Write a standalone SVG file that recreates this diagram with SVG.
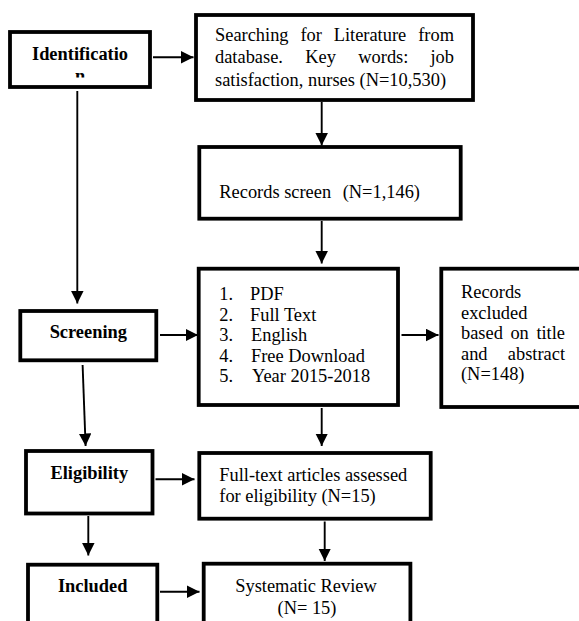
<svg xmlns="http://www.w3.org/2000/svg" width="579" height="621" viewBox="0 0 579 621">
<style>
.box{fill:#fff;stroke:#000;stroke-width:3.8}
.t{font-family:"Liberation Serif","Times New Roman",serif;font-size:18.4px;fill:#000}
.b{font-weight:bold}
.c{text-anchor:middle}
.e{text-anchor:end}
.ln{stroke:#000;stroke-width:1.9;fill:none}
</style>
<defs>
<marker id="ah" markerUnits="userSpaceOnUse" markerWidth="13" markerHeight="13" refX="12.5" refY="6.25" orient="auto">
<path d="M0,0 L12.5,6.25 L0,12.5 z" fill="#000"/>
</marker>
<clipPath id="clipId"><rect x="12" y="34" width="136" height="43.5"/></clipPath>
</defs>
<rect width="579" height="621" fill="#fff"/>
<g id="connectors">
<line class="ln" x1="153" y1="57.3" x2="193.5" y2="57.3" marker-end="url(#ah)"/>
<line class="ln" x1="321.7" y1="102" x2="321.7" y2="145.5" marker-end="url(#ah)"/>
<line class="ln" x1="321.7" y1="221" x2="321.7" y2="263.5" marker-end="url(#ah)"/>
<line class="ln" x1="77.3" y1="91" x2="77.3" y2="303.5" marker-end="url(#ah)"/>
<line class="ln" x1="160" y1="335" x2="198" y2="335" marker-end="url(#ah)"/>
<line class="ln" x1="401.5" y1="335" x2="438.5" y2="335" marker-end="url(#ah)"/>
<line class="ln" x1="82.6" y1="365" x2="85.6" y2="446" marker-end="url(#ah)"/>
<line class="ln" x1="321.7" y1="408" x2="321.7" y2="446" marker-end="url(#ah)"/>
<line class="ln" x1="155.5" y1="479.3" x2="194.5" y2="479.3" marker-end="url(#ah)"/>
<line class="ln" x1="88.3" y1="516" x2="88.3" y2="555.5" marker-end="url(#ah)"/>
<line class="ln" x1="324.7" y1="521.5" x2="324.7" y2="561" marker-end="url(#ah)"/>
<line class="ln" x1="160" y1="591.7" x2="199.5" y2="591.7" marker-end="url(#ah)"/>
</g>
<g id="identification">
<rect class="box" x="10" y="32" width="140" height="55"/>
<g clip-path="url(#clipId)">
<text class="t b c" x="80" y="60">Identificatio</text>
<text class="t b c" x="80" y="81.8">n</text>
</g>
</g>
<g id="searching">
<rect class="box" x="196" y="15" width="277" height="85"/>
<text class="t" y="40.5"><tspan x="215">Searching</tspan><tspan x="300.4">for</tspan><tspan x="333.7">Literature</tspan><tspan x="454" text-anchor="end">from</tspan></text>
<text class="t" y="63"><tspan x="215">database.</tspan><tspan x="305.3">Key</tspan><tspan x="358.3">words:</tspan><tspan x="454" text-anchor="end">job</tspan></text>
<text class="t" x="215" y="85.5">satisfaction, nurses (N=10,530)</text>
</g>
<g id="records">
<rect class="box" x="199.3" y="147" width="261.4" height="71.7"/>
<text class="t" y="198"><tspan x="219.3">Records screen</tspan><tspan x="342.7">(N=1,146)</tspan></text>
</g>
<g id="screening">
<rect class="box" x="20.3" y="311" width="136" height="49.3"/>
<text class="t b c" x="88.3" y="338.3">Screening</text>
</g>
<g id="criteria">
<rect class="box" x="198.7" y="268.7" width="199.3" height="136.3"/>
<text class="t"><tspan x="219.3" y="300">1.</tspan><tspan x="250" y="300">PDF</tspan></text>
<text class="t"><tspan x="219.3" y="320.5">2.</tspan><tspan x="250" y="320.5">Full Text</tspan></text>
<text class="t"><tspan x="219.3" y="341">3.</tspan><tspan x="251" y="341">English</tspan></text>
<text class="t"><tspan x="219.3" y="361.5">4.</tspan><tspan x="251" y="361.5">Free Download</tspan></text>
<text class="t"><tspan x="219.3" y="382">5.</tspan><tspan x="252" y="382">Year 2015-2018</tspan></text>
</g>
<g id="excluded">
<rect class="box" x="441.3" y="268.7" width="160" height="138.3"/>
<text class="t" x="461" y="298">Records</text>
<text class="t" x="461" y="318.5">excluded</text>
<text class="t" y="339"><tspan x="461">based</tspan><tspan x="510.4">on</tspan><tspan x="565" text-anchor="end">title</tspan></text>
<text class="t" y="359.5"><tspan x="461">and</tspan><tspan x="565" text-anchor="end">abstract</tspan></text>
<text class="t" x="461" y="380">(N=148)</text>
</g>
<g id="eligibility">
<rect class="box" x="26" y="451" width="126.5" height="62.5"/>
<text class="t b c" x="89.3" y="479.3">Eligibility</text>
</g>
<g id="fulltext">
<rect class="box" x="199.3" y="453" width="231.4" height="65.7"/>
<text class="t" x="219.3" y="481">Full-text articles assessed</text>
<text class="t" x="219.3" y="501.7">for eligibility (N=15)</text>
</g>
<g id="included">
<rect class="box" x="28" y="564.7" width="129.3" height="80"/>
<text class="t b c" x="92.7" y="591.7">Included</text>
</g>
<g id="systematic">
<rect class="box" x="203.7" y="563.7" width="206.7" height="80"/>
<text class="t c" x="306" y="592">Systematic Review</text>
<text class="t c" x="307" y="614">(N= 15)</text>
</g>
</svg>
